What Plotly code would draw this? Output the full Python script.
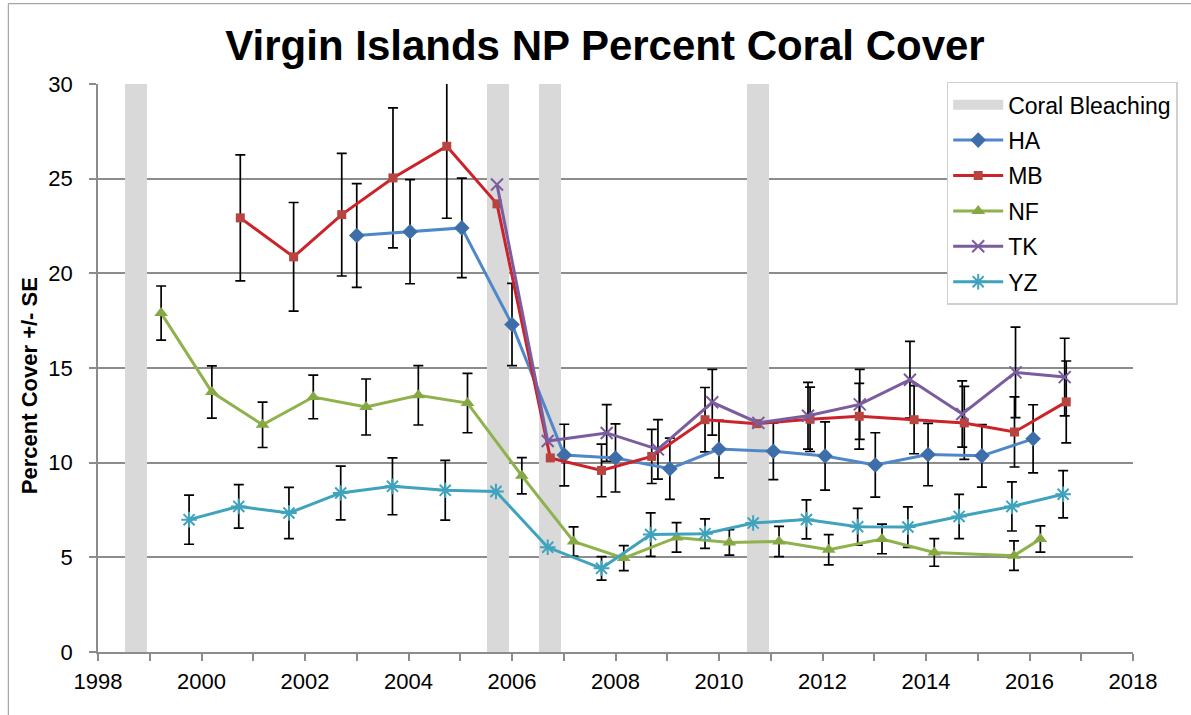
import plotly.graph_objects as go

# ---------------- data ----------------
bleach_years = [1998.74, 2005.73, 2006.74, 2010.75]
bleach_top = [30, 30, 30, 30]

ha_x = [2003.00, 2004.03, 2005.03, 2006.00, 2007.01, 2008.00, 2009.05, 2010.00, 2011.05, 2012.05, 2013.02, 2014.04, 2015.08, 2016.07]
ha_y = [22.0, 22.2, 22.4, 17.3, 10.4, 10.25, 9.68, 10.72, 10.6, 10.35, 9.88, 10.43, 10.36, 11.26]
ha_se = [2.74, 2.75, 2.63, 2.17, 1.63, 1.8, 1.62, 1.52, 1.5, 1.8, 1.7, 1.65, 1.65, 1.8]

mb_x = [2000.75, 2001.78, 2002.71, 2003.70, 2004.74, 2005.71, 2006.74, 2007.73, 2008.70, 2009.73, 2010.73, 2011.76, 2012.71, 2013.77, 2014.74, 2015.71, 2016.71]
mb_y = [22.93, 20.87, 23.1, 25.04, 26.71, 23.67, 10.25, 9.59, 10.33, 12.27, 12.06, 12.29, 12.45, 12.27, 12.1, 11.62, 13.21]
mb_se = [3.33, 2.87, 3.24, 3.7, 3.8, None, None, 1.39, 1.43, 1.7, None, 1.7, 1.74, 1.8, 1.93, 1.85, 2.16]

nf_x = [1999.22, 2000.20, 2001.18, 2002.16, 2003.18, 2004.19, 2005.14, 2006.19, 2007.19, 2008.16, 2009.18, 2010.20, 2011.16, 2012.12, 2013.15, 2014.16, 2015.70, 2016.21]
nf_y = [17.9, 13.73, 12.0, 13.47, 12.94, 13.56, 13.15, 9.31, 5.84, 4.96, 6.05, 5.79, 5.84, 5.40, 5.97, 5.26, 5.09, 5.97]
nf_se = [1.43, 1.38, 1.2, 1.15, 1.48, 1.57, 1.57, 0.96, 0.77, 0.66, 0.78, 0.67, 0.8, 0.8, 0.78, 0.73, 0.78, 0.69]

tk_x = [2005.71, 2006.69, 2007.83, 2008.82, 2009.87, 2010.76, 2011.72, 2012.72, 2013.69, 2014.70, 2015.73, 2016.68]
tk_y = [24.69, 11.14, 11.57, 10.7, 13.19, 12.1, 12.48, 13.08, 14.38, 12.57, 14.77, 14.52]
tk_se = [None, None, 1.5, 1.57, 1.74, None, 1.76, 1.85, 2.03, 1.75, 2.39, 2.05]

yz_x = [1999.76, 2000.72, 2001.69, 2002.69, 2003.69, 2004.71, 2005.69, 2006.69, 2007.73, 2008.68, 2009.73, 2010.66, 2011.69, 2012.68, 2013.65, 2014.64, 2015.66, 2016.65]
yz_y = [6.99, 7.69, 7.34, 8.40, 8.75, 8.54, 8.48, 5.53, 4.42, 6.2, 6.25, 6.81, 7.0, 6.62, 6.60, 7.16, 7.69, 8.33]
yz_se = [1.3, 1.15, 1.35, 1.42, 1.5, 1.58, None, None, 0.62, 1.15, 0.78, None, 1.03, 0.97, 1.07, 1.17, 1.3, 1.25]

x_tick_vals = list(range(1998, 2019, 2))
y_tick_vals = [0, 5, 10, 15, 20, 25, 30]

# ---------------- styles ----------------
FONT = "Liberation Sans, Arial, sans-serif"
series = [
    ("HA", ha_x, ha_y, ha_se, "#4f88c9", "#3d6ea9", "diamond", 12),
    ("MB", mb_x, mb_y, mb_se, "#cc2229", "#b8433f", "square", 9),
    ("NF", nf_x, nf_y, nf_se, "#8fb24c", "#86a844", "triangle-up", 12),
    ("TK", tk_x, tk_y, tk_se, "#7a5c9f", "#7a5c9f", "x-thin-open", 12),
    ("YZ", yz_x, yz_y, yz_se, "#3fa3bd", "#3fa3bd", "asterisk-open", 13),
]

fig = go.Figure()

# coral bleaching bars
fig.add_trace(go.Bar(
    x=bleach_years, y=bleach_top, width=0.43,
    marker=dict(color="#d9d9d9", line=dict(width=0)),
    showlegend=False, hoverinfo="skip",
))
# legend entry for bleaching
fig.add_trace(go.Scatter(
    x=[None], y=[None], mode="lines", name="Coral Bleaching",
    line=dict(color="#d9d9d9", width=10), legendgroup="cb",
))

# error bars (only points with a SE)
for name, xs, ys, se, lc, mc, sym, sz in series:
    ex = [x for x, s in zip(xs, se) if s is not None]
    ey = [y for y, s in zip(ys, se) if s is not None]
    es = [s for s in se if s is not None]
    fig.add_trace(go.Scatter(
        x=ex, y=ey, mode="markers",
        marker=dict(size=1, opacity=0),
        error_y=dict(type="data", array=es, symmetric=True,
                     color="black", thickness=1.7, width=5),
        showlegend=False, hoverinfo="skip", legendgroup=name,
    ))

# lines
for name, xs, ys, se, lc, mc, sym, sz in series:
    open_sym = sym.endswith("open")
    fig.add_trace(go.Scatter(
        x=xs, y=ys, mode="lines+markers", name=name, legendgroup=name,
        line=dict(color=lc, width=3),
        marker=dict(symbol=sym, size=sz, color=mc,
                    line=dict(color=mc, width=2 if open_sym else 0)),
    ))

# outer frame (left and top edges visible)
for x0, y0, x1, y1 in [(-0.0866, 1.1416, -0.0866, -0.3), (-0.0866, 1.1416, 1.2, 1.1416)]:
    fig.add_shape(type="line", xref="paper", yref="paper", x0=x0, y0=y0, x1=x1, y1=y1,
                  line=dict(color="#a6a6a6", width=1.2), layer="above")

fig.add_annotation(
    text="<b>Percent Cover +/- SE</b>", textangle=-90,
    xref="paper", yref="paper", x=-0.0654, y=0.4686,
    xanchor="center", yanchor="middle", showarrow=False,
    font=dict(family=FONT, size=22, color="black"),
)

fig.update_layout(
    width=1191, height=715,
    margin=dict(l=98, r=58, t=84, b=63),
    paper_bgcolor="white", plot_bgcolor="white",
    font=dict(family=FONT, color="black"),
    title=dict(text="<b>Virgin Islands NP Percent Coral Cover</b>",
               x=0.508, xref="container", xanchor="center",
               y=0.937, yref="container", yanchor="middle",
               font=dict(family=FONT, size=42, color="black")),
    legend=dict(x=0.820, y=1.004, xanchor="left", yanchor="top",
                bgcolor="white", bordercolor="#d0d0d0", borderwidth=1.5,
                font=dict(family=FONT, size=23, color="black"),
                itemwidth=50, tracegroupgap=2.5, traceorder="grouped"),
    showlegend=True,
    bargap=0,
)

fig.update_xaxes(
    range=[1998, 2018], tickvals=x_tick_vals, ticktext=[str(v) for v in x_tick_vals],
    showgrid=False, zeroline=False, showline=True, linecolor="#8c8c8c", linewidth=1.5,
    ticks="outside", ticklen=7, tickcolor="#8c8c8c", tickwidth=1.5,
    minor=dict(dtick=1, tick0=1998, ticks="outside", ticklen=7, tickcolor="#8c8c8c", tickwidth=1.5, showgrid=False),
    tickfont=dict(family=FONT, size=22, color="black"), ticklabelstandoff=2,
)
fig.update_yaxes(
    range=[0, 30], tickvals=y_tick_vals,
    showgrid=True, gridcolor="#8c8c8c", gridwidth=1.5,
    zeroline=False, showline=True, linecolor="#8c8c8c", linewidth=1.5,
    ticks="outside", ticklen=7, tickcolor="#8c8c8c", tickwidth=1.5,
    tickfont=dict(family=FONT, size=22, color="black"), ticklabelstandoff=12,
)

fig.write_html("out.html")
